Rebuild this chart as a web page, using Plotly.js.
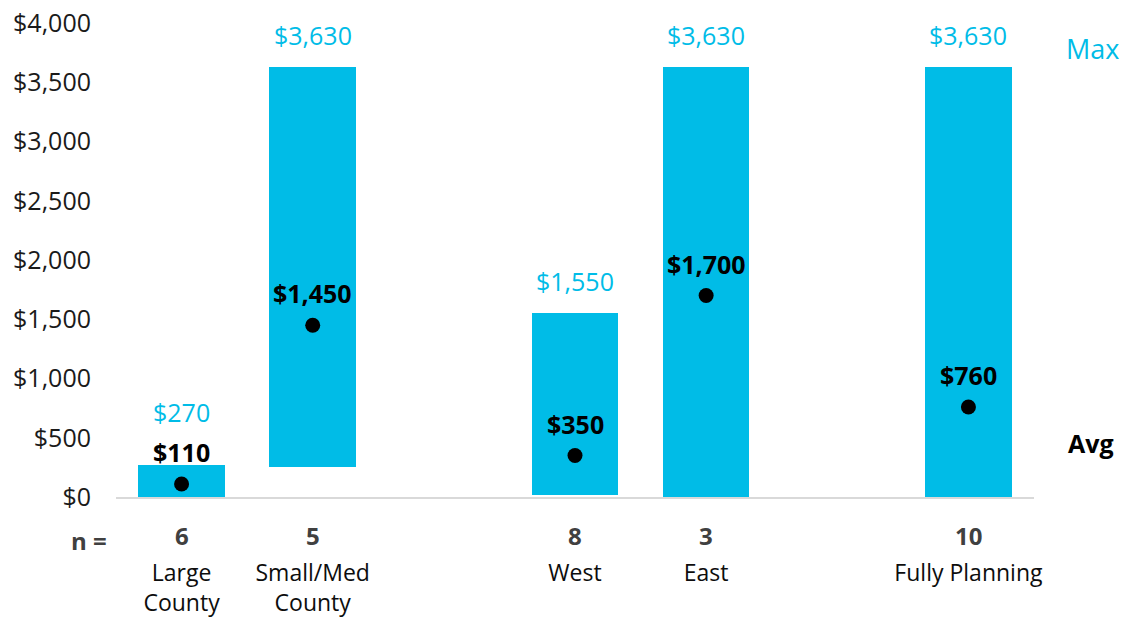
<!DOCTYPE html>
<html>
<head>
<meta charset="utf-8">
<script src="https://cdn.plot.ly/plotly-3.0.1.min.js"></script>
<style>
  html, body { margin: 0; padding: 0; background: #ffffff; }
  #chart { width: 1129px; height: 621px; }
</style>
</head>
<body>
<div id="chart"></div>
<script>
// Cost ranges by segment: bar spans min..max, dot marks the average
const categories = ['Large<br>County', 'Small/Med<br>County', 'West', 'East', 'Fully Planning'];
const groups = ['Size', 'Size', 'Region', 'Region', 'Planning'];
const nCounts = [6, 5, 8, 3, 10];
const minValues = [0, 250, 20, 0, 0];
const maxValues = [270, 3630, 1550, 3630, 3630];
const avgValues = [110, 1450, 350, 1700, 760];
const yTicks = [0, 500, 1000, 1500, 2000, 2500, 3000, 3500, 4000];

const CYAN = '#00BCE7';
const FONT = '"Open Sans", "DejaVu Sans", sans-serif';
const money = v => '$' + v.toLocaleString('en-US');

// slot positions: one empty slot between groups
const xPos = [];
let slot = 0;
categories.forEach((c, i) => {
  if (i > 0 && groups[i] !== groups[i - 1]) slot += 1;
  xPos.push(slot);
  slot += 1;
});
const xMax = xPos[xPos.length - 1];

const plotTop = 23, plotBottom = 497;
const pxPerUnit = (plotBottom - plotTop) / 4000;

const rangeBars = {
  type: 'bar',
  x: xPos,
  y: maxValues.map((m, i) => m - minValues[i]),
  base: minValues,
  width: 0.66,
  marker: { color: CYAN, line: { width: 0 } },
  hoverinfo: 'skip',
  showlegend: false
};

const avgDots = {
  type: 'scatter',
  mode: 'markers',
  x: xPos,
  y: avgValues,
  marker: { color: '#000000', size: 15 },
  hoverinfo: 'skip',
  showlegend: false
};

const annotations = [];
const labelOffset = 32;
xPos.forEach((x, i) => {
  // average label above the dot
  annotations.push({
    x: x, y: avgValues[i], xref: 'x', yref: 'y',
    text: '<b>' + money(avgValues[i]) + '</b>',
    showarrow: false, yanchor: 'middle', yshift: labelOffset,
    font: { family: FONT, size: 25, color: '#000000' }
  });
  // max label above the bar, lifted clear of the average label if close
  const avgCenter = avgValues[i] * pxPerUnit + labelOffset;
  let maxShift = labelOffset;
  if (maxValues[i] * pxPerUnit + labelOffset - avgCenter < 40) {
    maxShift = avgCenter + 40 - maxValues[i] * pxPerUnit;
  }
  annotations.push({
    x: x, y: maxValues[i], xref: 'x', yref: 'y',
    text: money(maxValues[i]),
    showarrow: false, yanchor: 'middle', yshift: maxShift,
    font: { family: FONT, size: 25, color: CYAN }
  });
  // sample size row
  annotations.push({
    x: x, y: -0.081, xref: 'x', yref: 'paper',
    text: '<b>' + nCounts[i] + '</b>',
    showarrow: false, yanchor: 'middle',
    font: { family: FONT, size: 24, color: '#404040' }
  });
});

annotations.push({
  x: -0.029, y: -0.091, xref: 'paper', yref: 'paper',
  text: '<b>n =</b>', showarrow: false, xanchor: 'center', yanchor: 'middle',
  font: { family: FONT, size: 24, color: '#404040' }
});
annotations.push({
  x: 1.064, y: 0.947, xref: 'paper', yref: 'paper',
  text: 'Max', showarrow: false, xanchor: 'center', yanchor: 'middle',
  font: { family: FONT, size: 27, color: CYAN }
});
annotations.push({
  x: 1.062, y: 0.114, xref: 'paper', yref: 'paper',
  text: '<b>Avg</b>', showarrow: false, xanchor: 'center', yanchor: 'middle',
  font: { family: FONT, size: 25, color: '#000000' }
});

const layout = {
  width: 1129,
  height: 621,
  margin: { l: 116, r: 95, t: plotTop, b: 621 - plotBottom, pad: 0 },
  paper_bgcolor: '#ffffff',
  plot_bgcolor: '#ffffff',
  font: { family: FONT, color: '#000000' },
  showlegend: false,
  bargap: 0,
  xaxis: {
    range: [-0.5, xMax + 0.5],
    tickvals: xPos,
    ticktext: categories,
    tickfont: { family: FONT, size: 23, color: '#0d0d0d' },
    ticks: '',
    ticklabelstandoff: 54,
    showgrid: false,
    zeroline: false,
    showline: true,
    linecolor: '#d9d9d9',
    linewidth: 2,
    fixedrange: true
  },
  yaxis: {
    range: [0, 4000],
    tickvals: yTicks,
    ticktext: yTicks.map(money),
    tickfont: { family: FONT, size: 25, color: '#1a1a1a' },
    ticks: '',
    ticklabelstandoff: 24,
    showgrid: false,
    zeroline: false,
    showline: false,
    fixedrange: true
  },
  annotations: annotations
};

Plotly.newPlot('chart', [rangeBars, avgDots], layout, { displayModeBar: false, staticPlot: true });
</script>
</body>
</html>
